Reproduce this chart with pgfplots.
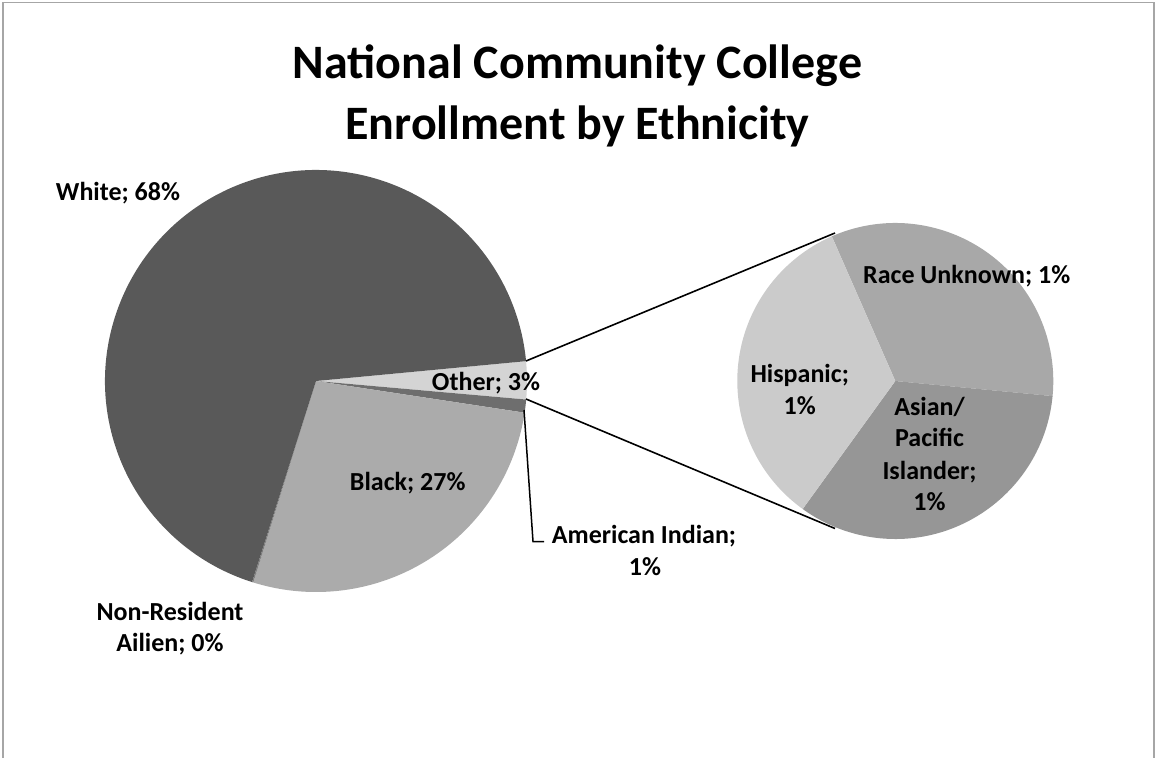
\documentclass[border=0pt]{standalone}
\usepackage{pgfplots}
\pgfplotsset{compat=1.18}
\usepackage{pgfplotstable}
\usepackage{fontspec}
\setmainfont{Carlito}

\definecolor{cWhite}{HTML}{595959}
\definecolor{cBlack}{HTML}{ABABAB}
\definecolor{cOther}{HTML}{D4D4D4}
\definecolor{cAmInd}{HTML}{6E6E6E}
\definecolor{cNRA}{HTML}{808080}
\definecolor{cRace}{HTML}{A8A8A8}
\definecolor{cAsian}{HTML}{969696}
\definecolor{cHisp}{HTML}{CBCBCB}
\definecolor{frame}{HTML}{A6A6A6}

% main pie (percent of enrollment), drawn clockwise starting at 5.4 degrees
\pgfplotstableread{
name value color
Other 2.9 cOther
AmInd 1.0 cAmInd
Black 27.4 cBlack
NRA 0.1 cNRA
White 68.6 cWhite
}\maintable
% split of "Other" (percent), drawn clockwise starting at 113.7 degrees
\pgfplotstableread{
name value color
RaceUnknown 0.96 cRace
Asian 0.97 cAsian
Hispanic 0.97 cHisp
}\subtable

\newcommand{\lab}[3]{\node[anchor=base,inner sep=0pt,font=\fontsize{26}{31}\selectfont\bfseries] at (axis cs:#1,#2) {#3};}

\begin{document}
\begin{tikzpicture}
\useasboundingbox (0,0) rectangle (1155pt,758pt);
\begin{axis}[
  at={(0,0)}, anchor=south west,
  width=1155pt, height=758pt, scale only axis,
  xmin=0, xmax=1155, ymin=0, ymax=758, y dir=reverse,
  hide axis, clip=false,
]
% ---- main pie ----
\def\cur{5.4}
\pgfplotsforeachungrouped \i in {0,...,4}{%
  \pgfplotstablegetelem{\i}{value}\of\maintable \let\v\pgfplotsretval
  \pgfplotstablegetelem{\i}{color}\of\maintable \let\c\pgfplotsretval
  \pgfmathsetmacro\nxt{\cur-3.6*\v}%
  \edef\temp{\noexpand\fill[\c] (axis cs:316,381) -- ++(\cur:211pt) arc[start angle=\cur, end angle=\nxt, radius=211pt] -- cycle;}%
  \temp
  \let\cur\nxt
}
% ---- secondary pie ----
\def\cur{113.7}
\pgfplotsforeachungrouped \i in {0,...,2}{%
  \pgfplotstablegetelem{\i}{value}\of\subtable \let\v\pgfplotsretval
  \pgfplotstablegetelem{\i}{color}\of\subtable \let\c\pgfplotsretval
  \pgfmathsetmacro\nxt{\cur-124.138*\v}%
  \edef\temp{\noexpand\fill[\c] (axis cs:895.3,381) -- ++(\cur:158pt) arc[start angle=\cur, end angle=\nxt, radius=158pt] -- cycle;}%
  \temp
  \let\cur\nxt
}
% connector lines
\draw[black, line width=1.6pt] (axis cs:526,361) -- (axis cs:835,233);
\draw[black, line width=1.6pt] (axis cs:526,399) -- (axis cs:835,528.5);
% leader line
\draw[black, line width=1.5pt] (axis cs:524,410) -- (axis cs:533,541.5) -- (axis cs:544,541.5);
% frame
\draw[frame, line width=1.6pt] (axis cs:3,758) -- (axis cs:3,2.5) -- (axis cs:1154,2.5) -- (axis cs:1154,758);
% title
\node[anchor=base,inner sep=0pt,font=\fontsize{48}{58}\selectfont\bfseries] at (axis cs:577.5,78.2) {National Community College};
\node[anchor=base,inner sep=0pt,font=\fontsize{48}{58}\selectfont\bfseries] at (axis cs:577.5,139.4) {Enrollment by Ethnicity};
% labels
\lab{118}{200.7}{White; 68\%}
\lab{486}{390}{Other; 3\%}
\lab{407.7}{490.7}{Black; 27\%}
\lab{644}{543.3}{American Indian;}
\lab{645}{575}{1\%}
\lab{170}{620.7}{Non-Resident}
\lab{170}{651.7}{Ailien; 0\%}
\lab{966.7}{283.3}{Race Unknown; 1\%}
\lab{799.7}{382.7}{Hispanic;}
\lab{799.7}{414.3}{1\%}
\lab{929.5}{415}{Asian/}
\lab{929.5}{446.7}{Pacific}
\lab{929.5}{479.3}{Islander;}
\lab{929.5}{510}{1\%}
\end{axis}
\end{tikzpicture}
\end{document}
